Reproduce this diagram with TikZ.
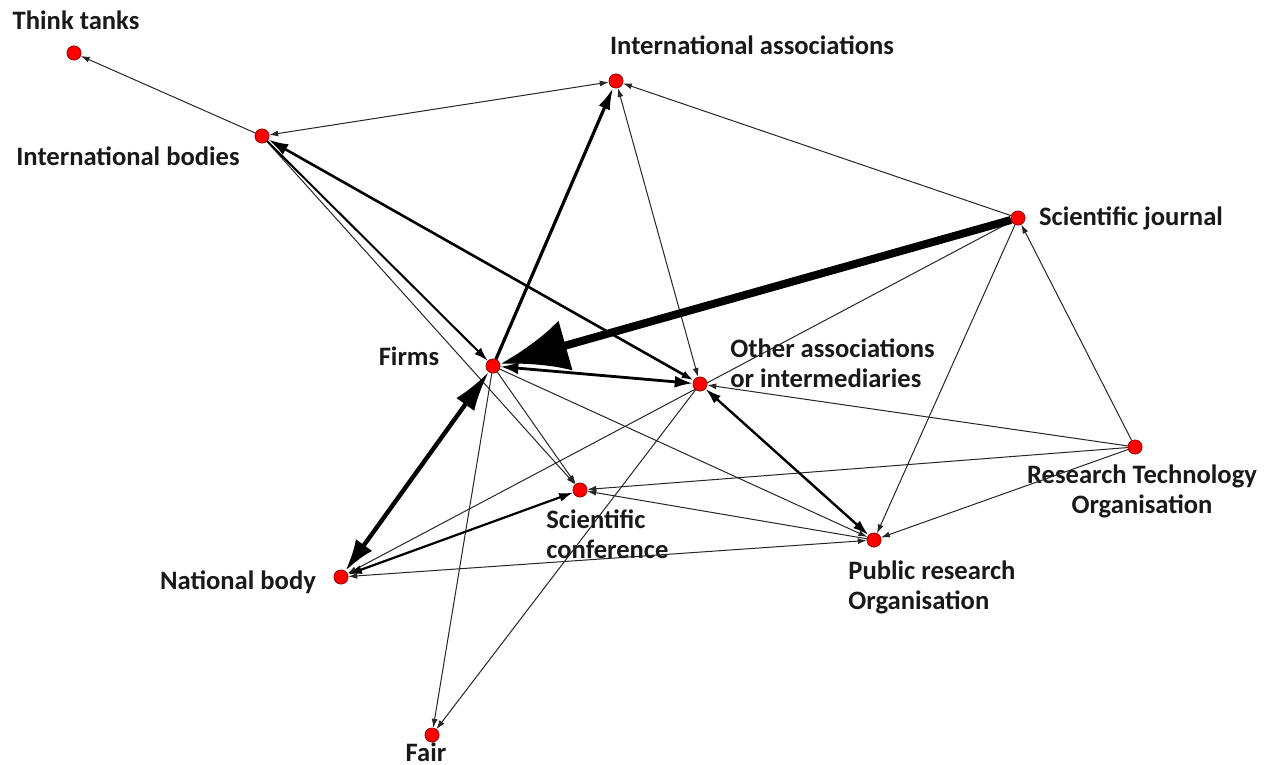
\documentclass[tikz,border=0pt]{standalone}
\usepackage{fontspec}
\setmainfont{Carlito}
\usetikzlibrary{arrows.meta}
\begin{document}
\begin{tikzpicture}[x=0.5pt,y=-0.5pt,
  vertex/.style={circle,fill=red,draw=red!60!black,line width=0.3pt,minimum size=7pt,inner sep=0pt},
  lab/.style={font=\fontsize{13.3}{15}\selectfont\bfseries,inner sep=0pt,text=black!90},
  thinln/.style={line width=0.5pt,black!85},
  thinar/.style={thinln,-{Latex[length=4.5pt,width=3pt]}},
  thinbi/.style={thinln,{Latex[length=4.5pt,width=3pt]}-{Latex[length=4.5pt,width=3pt]}},
  medar/.style={line width=1pt,-{Latex[length=7pt,width=4.5pt]}},
  medbi/.style={line width=1.1pt,{Latex[length=7pt,width=4.5pt]}-{Latex[length=7pt,width=4.5pt]}},
  ]
\useasboundingbox (0,0) rectangle (1268,765);
% nodes
\node[vertex] (TT) at (74,53) {};
\node[vertex] (IB) at (262,136) {};
\node[vertex] (IA) at (616,81) {};
\node[vertex] (SJ) at (1018,218) {};
\node[vertex] (F) at (493,366) {};
\node[vertex] (OA) at (700,384) {};
\node[vertex] (RTO) at (1135,447) {};
\node[vertex] (SC) at (580,490) {};
\node[vertex] (PRO) at (874,540) {};
\node[vertex] (NB) at (341,577) {};
\node[vertex] (FA) at (432,735) {};
% labels
\node[lab] (lTT) at (76,20) {Think tanks};
\node[lab] (lIB) at (128,156) {International bodies};
\node[lab] (lIA) at (752,45) {International associations};
\node[lab] (lSJ) at (1131,218) {Scientific journal};
\node[lab] (lF) at (409,356) {Firms};
\node[lab,anchor=west,align=left] (lOA) at (730,363) {Other associations\\or intermediaries};
\node[lab,align=center] (lRTO) at (1142,491) {Research Technology\\Organisation};
\node[lab,anchor=west,align=left] (lSC) at (546,534) {Scientific\\conference};
\node[lab,anchor=west,align=left] (lPRO) at (848,587) {Public research\\Organisation};
\node[lab] (lNB) at (238,582) {National body};
\node[lab] (lFA) at (426,752) {Fair};
% edges
\draw[thinar] (IB) -- (TT);
\draw[thinbi] (IB) -- (IA);
\draw[thinbi] (IA) -- (OA);
\draw[thinar] (SJ) -- (IA);
\draw[thinar] (IB) -- (SC);
\draw[thinar] (F) -- (FA);
\draw[thinar] (F) -- (SC);
\draw[thinar] (F) -- (PRO);
\draw[thinar] (OA) -- (FA);
\draw[thinar] (SJ) -- (NB);
\draw[thinar] (SJ) -- (PRO);
\draw[thinar] (RTO) -- (SJ);
\draw[thinar] (RTO) -- (OA);
\draw[thinar] (RTO) -- (SC);
\draw[thinar] (RTO) -- (PRO);
\draw[thinar] (PRO) -- (SC);
\draw[thinbi] (NB) -- (PRO);
\draw[medar] (IB) -- (F);
\draw[line width=1.3pt,{Latex[length=10pt,width=6pt]}-{Latex[length=6pt,width=4pt]}] (IB) -- (OA);
\draw[medbi] (NB) -- (SC);
\draw[line width=1.2pt,{Latex[length=8pt,width=5pt]}-{Latex[length=8pt,width=5pt]}] (OA) -- (PRO);
\draw[line width=1.4pt,{Latex[length=9pt,width=6pt]}-{Latex[length=9pt,width=6pt]}] (F) -- (OA);
\draw[line width=1.6pt,-{Latex[length=11pt,width=6pt]}] (F) -- (IA);
\draw[line width=2.2pt,{Latex[length=20pt,width=11pt]}-{Latex[length=16pt,width=10pt]}] (F) -- (NB);
\draw[line width=4pt,-{Latex[length=34pt,width=26pt]}] (SJ) -- (F);
% redraw vertices on top
\foreach \n in {TT,IB,IA,SJ,F,OA,RTO,SC,PRO,NB,FA} {\node[vertex] at (\n) {};}
\end{tikzpicture}
\end{document}
